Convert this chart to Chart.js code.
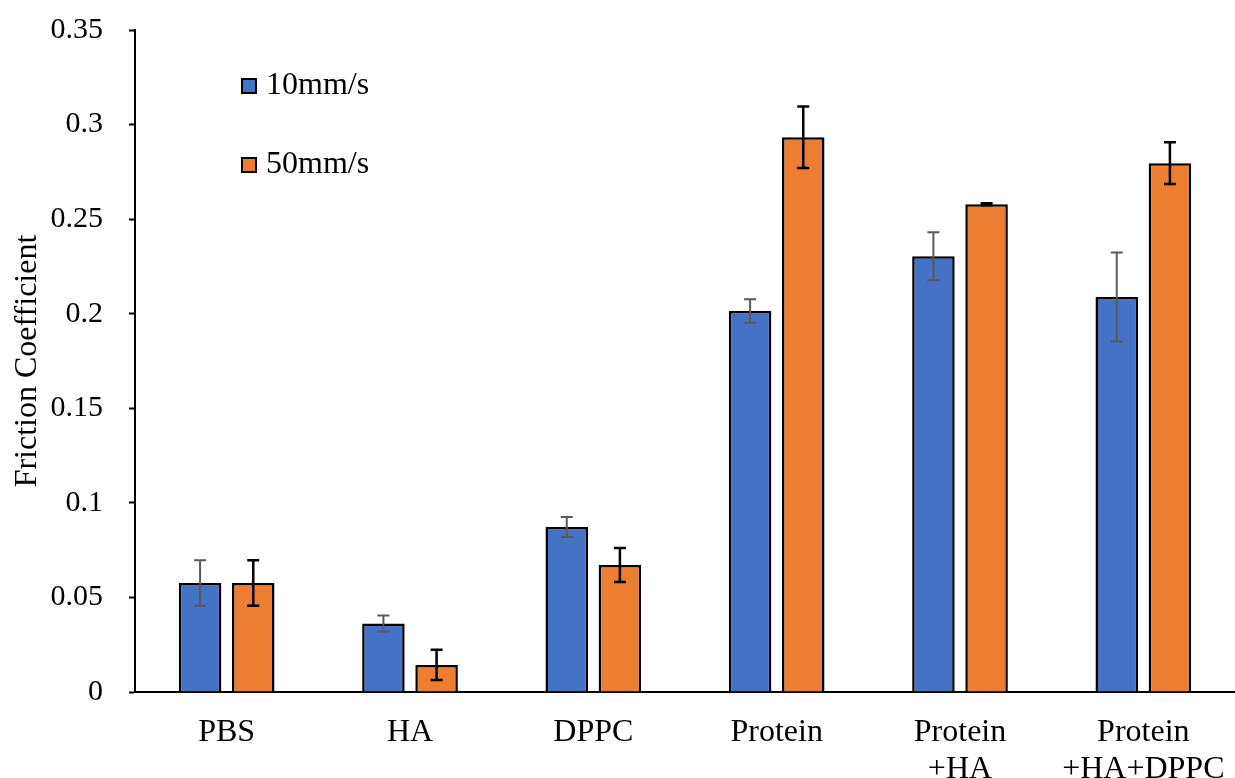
<!DOCTYPE html>
<html lang="en">

<head>
    <meta charset="UTF-8">
    <title>Friction Coefficient</title>
    <script src="https://cdn.jsdelivr.net/npm/chart.js"></script>
    <style>
        html, body {
            margin: 0;
            padding: 0;
            background: #fff;
        }
        #wrap {
            width: 1235px;
            height: 778px;
        }
    </style>
</head>

<body>
    <div id="wrap"><canvas id="barChart"></canvas></div>

    <script>
        // categories and series values
        const categories = ['PBS', 'HA', 'DPPC', 'Protein', ['Protein', '+HA'], ['Protein', '+HA+DPPC']];
        const seriesNames = ['10mm/s', '50mm/s'];
        const slow = [0.0576, 0.0362, 0.0872, 0.2014, 0.2304, 0.2088];
        const fast = [0.0576, 0.0143, 0.0671, 0.2933, 0.2579, 0.2796];
        const slowErr = [0.0120, 0.0042, 0.0053, 0.0062, 0.0127, 0.0235];
        const fastErr = [0.0120, 0.0080, 0.0090, 0.0162, 0.0005, 0.0110];
        const yTickLabels = ['0', '0.05', '0.1', '0.15', '0.2', '0.25', '0.3', '0.35'];

        const serif = "'Liberation Serif', 'Times New Roman', serif";

        // error bars drawn with the y scale
        const errorBars = {
            id: 'errorBars',
            afterDatasetsDraw(chart) {
                const ctx = chart.ctx;
                const y = chart.scales.y;
                chart.data.datasets.forEach((ds, i) => {
                    const meta = chart.getDatasetMeta(i);
                    ctx.save();
                    ctx.strokeStyle = ds.errColor;
                    ctx.lineWidth = ds.errWidth;
                    meta.data.forEach((bar, j) => {
                        const v = ds.data[j];
                        const e = ds.errors[j];
                        const top = y.getPixelForValue(v + e);
                        const bot = y.getPixelForValue(v - e);
                        ctx.beginPath();
                        ctx.moveTo(bar.x, top);
                        ctx.lineTo(bar.x, bot);
                        ctx.moveTo(bar.x - 6, top);
                        ctx.lineTo(bar.x + 6, top);
                        ctx.moveTo(bar.x - 6, bot);
                        ctx.lineTo(bar.x + 6, bot);
                        ctx.stroke();
                    });
                    ctx.restore();
                });
            }
        };

        // legend inside the plot, top left
        const innerLegend = {
            id: 'innerLegend',
            afterDraw(chart) {
                const ctx = chart.ctx;
                ctx.save();
                ctx.font = '32px ' + serif;
                ctx.textBaseline = 'alphabetic';
                chart.data.datasets.forEach((ds, i) => {
                    const cy = 86 + i * 79;
                    ctx.fillStyle = ds.backgroundColor;
                    ctx.fillRect(242, cy - 7, 14, 14);
                    ctx.strokeStyle = '#000';
                    ctx.lineWidth = 2;
                    ctx.strokeRect(242, cy - 7, 14, 14);
                    ctx.fillStyle = '#000';
                    ctx.fillText(ds.label, 266, cy + 8);
                });
                ctx.restore();
            }
        };

        const ctx = document.getElementById('barChart').getContext('2d');
        new Chart(ctx, {
            type: 'bar',
            data: {
                labels: categories,
                datasets: [{
                    label: seriesNames[0],
                    data: slow,
                    errors: slowErr,
                    errColor: '#5a5a5a',
                    errWidth: 2,
                    backgroundColor: '#4472C4',
                    borderColor: '#000',
                    borderWidth: 2.5,
                    categoryPercentage: 0.58,
                    barPercentage: 0.8
                }, {
                    label: seriesNames[1],
                    data: fast,
                    errors: fastErr,
                    errColor: '#000',
                    errWidth: 2.5,
                    backgroundColor: '#ED7D31',
                    borderColor: '#000',
                    borderWidth: 2.5,
                    categoryPercentage: 0.58,
                    barPercentage: 0.8
                }]
            },
            options: {
                responsive: true,
                maintainAspectRatio: false,
                animation: false,
                layout: {
                    padding: { top: 30, right: 0, left: 0, bottom: 0 }
                },
                plugins: {
                    legend: { display: false },
                    tooltip: { enabled: false }
                },
                scales: {
                    x: {
                        afterFit: scale => {
                            scale.height = 86;
                            scale.paddingLeft = 0;
                            scale.paddingRight = 0;
                        },
                        grid: { display: false, drawTicks: false },
                        border: { color: '#000', width: 2 },
                        ticks: {
                            color: '#000',
                            padding: 22,
                            maxRotation: 0,
                            autoSkip: false,
                            font: { family: serif, size: 32, lineHeight: 1.15 }
                        }
                    },
                    y: {
                        min: 0,
                        max: 0.35,
                        afterFit: scale => {
                            scale.width = 135;
                            scale.paddingTop = 0;
                            scale.paddingBottom = 0;
                        },
                        grid: {
                            drawOnChartArea: false,
                            drawTicks: true,
                            tickLength: 6,
                            tickColor: '#000',
                            tickWidth: 2
                        },
                        border: { color: '#000', width: 2 },
                        ticks: {
                            stepSize: 0.05,
                            color: '#000',
                            padding: 26,
                            font: { family: serif, size: 30 },
                            callback: (v, i) => yTickLabels[i]
                        },
                        title: {
                            display: true,
                            text: 'Friction Coefficient',
                            color: '#000',
                            padding: { top: 8, bottom: 0 },
                            font: { family: serif, size: 32 }
                        }
                    }
                }
            },
            plugins: [errorBars, innerLegend]
        });
    </script>
</body>

</html>
